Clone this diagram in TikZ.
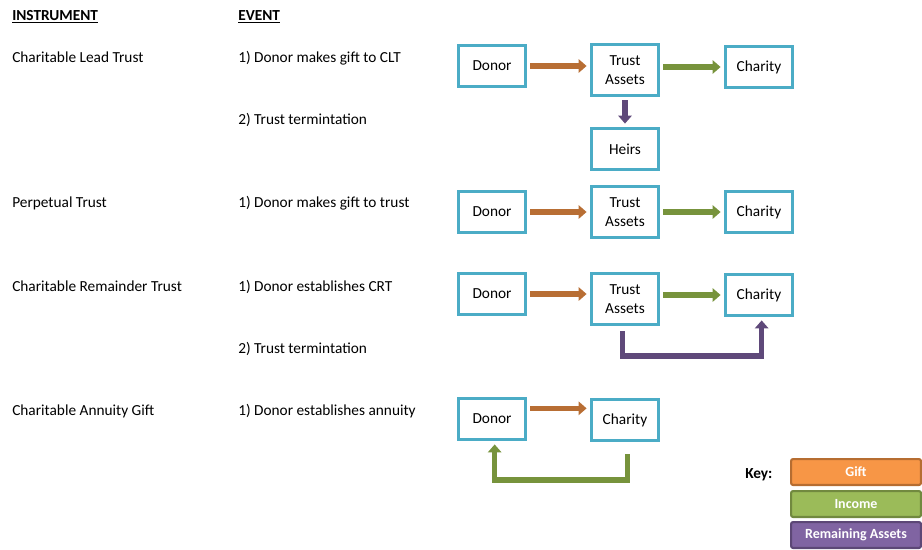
\documentclass[tikz,border=0pt]{standalone}
\usepackage{fontspec}
\setmainfont{Carlito}
\usetikzlibrary{arrows.meta, positioning, calc}
\usepackage{xcolor}
\definecolor{boxline}{RGB}{75,172,198}
\definecolor{giftArr}{RGB}{184,110,52}
\definecolor{incomeArr}{RGB}{119,147,60}
\definecolor{remainArr}{RGB}{95,73,122}
\definecolor{giftFill}{RGB}{247,150,70}
\definecolor{giftLine}{RGB}{182,109,49}
\definecolor{incomeFill}{RGB}{155,187,89}
\definecolor{incomeLine}{RGB}{113,137,63}
\definecolor{remainFill}{RGB}{128,100,162}
\definecolor{remainLine}{RGB}{92,71,118}
\newcommand{\basefont}{\fontsize{11.5}{14}\selectfont}

\begin{document}
\begin{tikzpicture}[
  x=0.75pt, y=-0.75pt,
  font=\basefont,
  party/.style={
    draw=boxline, fill=white, line width=2.6pt,
    minimum width=50pt, minimum height=30.5pt, align=center, inner sep=2pt
  },
  tall/.style={party, minimum height=38pt},
  lbl/.style={anchor=base west, inner sep=0pt},
  flow/.style={line width=4pt, -{Triangle[length=6pt,width=10pt]},
    shorten <=2.5pt, shorten >=2.5pt},
  gift/.style={flow, draw=giftArr},
  income/.style={flow, draw=incomeArr},
  remain/.style={flow, draw=remainArr},
  keybox/.style={
    line width=1.6pt, rounded corners=1.5pt, minimum width=97.4pt,
    minimum height=19.4pt, text=white, font=\fontsize{10.5}{12}\selectfont\bfseries
  },
]
\useasboundingbox (0,0) rectangle (922,550);

% --- Column headers ---
\node[lbl, font=\basefont\bfseries] (hdrInstr) at (12,20.7) {\underline{INSTRUMENT}};
\node[lbl, font=\basefont\bfseries] (hdrEvent) at (238,20.7) {\underline{EVENT}};

% --- Row labels ---
\node[lbl] (instA)  at (12,62.5)  {Charitable Lead Trust};
\node[lbl] (evA1)   at (238,62.5) {1) Donor makes gift to CLT};
\node[lbl] (evA2)   at (238,124.5) {2) Trust termintation};
\node[lbl] (instB)  at (12,207.5) {Perpetual Trust};
\node[lbl] (evB1)   at (238,207.5) {1) Donor makes gift to trust};
\node[lbl] (instC)  at (12,291.5) {Charitable Remainder Trust};
\node[lbl] (evC1)   at (238,291.5) {1) Donor establishes CRT};
\node[lbl] (evC2)   at (238,353.5) {2) Trust termintation};
\node[lbl] (instD)  at (12,415.5) {Charitable Annuity Gift};
\node[lbl] (evD1)   at (238,415.5) {1) Donor establishes annuity};

% --- Charitable lead trust ---
\node[party] (donorA)   at (492,66)  {Donor};
\node[tall]  (trustA)   at (625,70)  {Trust\\Assets};
\node[party] (charityA) at (759,67)  {Charity};
\node[party] (heirsA)   at (625,149) {Heirs};

\draw[gift]   (donorA.east) -- (donorA.east -| trustA.west);
\draw[income] (trustA.east |- charityA.west) -- (charityA.west);
\draw[remain] (trustA.south) -- (heirsA.north);

% --- Perpetual trust ---
\node[party] (donorB)   at (492,212) {Donor};
\node[tall]  (trustB)   at (625,212) {Trust\\Assets};
\node[party] (charityB) at (759,212) {Charity};

\draw[gift]   (donorB) -- (trustB);
\draw[income] (trustB) -- (charityB);

% --- Charitable remainder trust ---
\node[party] (donorC)   at (492,294) {Donor};
\node[tall]  (trustC)   at (625,299) {Trust\\Assets};
\node[party] (charityC) at (759,295) {Charity};

\draw[gift]   (donorC.east) -- (donorC.east -| trustC.west);
\draw[income] (trustC.east |- charityC.west) -- (charityC.west);
\draw[remain, shorten <=4pt]
  ([xshift=-2pt]trustC.south) -- ++(0,30) -| ([xshift=2pt]charityC.south);

% --- Charitable annuity gift ---
\node[party] (donorD)   at (492,419) {Donor};
\node[party] (charityD) at (625,420) {Charity};

\draw[gift] ([yshift=8pt]donorD.east) -- ([yshift=8pt]donorD.east -| charityD.west);
\draw[income, shorten <=9pt]
  ([xshift=2pt]charityD.south) -- ++(0,38) -| ([xshift=2pt]donorD.south);

% --- Key ---
\node[lbl, font=\basefont\bfseries] (keyLabel) at (745,478) {Key:};
\node[keybox, draw=giftLine, fill=giftFill]     (keyGift)   at (856,472) {Gift};
\node[keybox, draw=incomeLine, fill=incomeFill] (keyIncome) at (856,504) {Income};
\node[keybox, draw=remainLine, fill=remainFill] (keyRemain) at (856,535) {Remaining Assets};

\end{tikzpicture}
\end{document}
